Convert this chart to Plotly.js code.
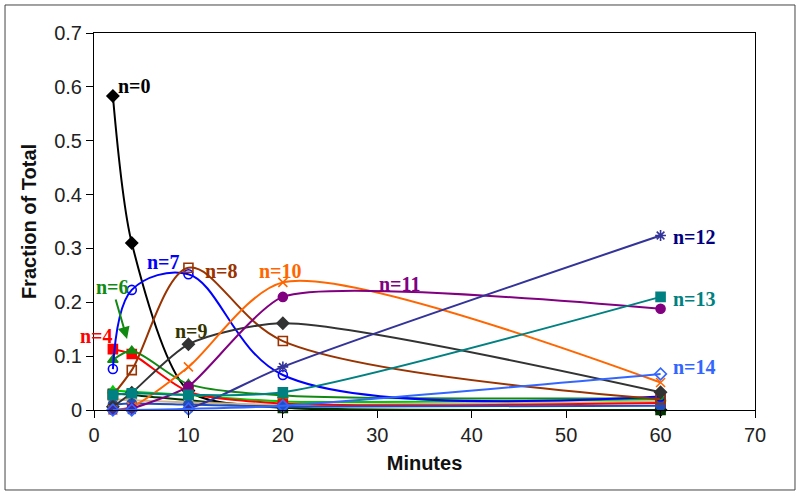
<!DOCTYPE html>
<html>
<head>
<meta charset="utf-8">
<script src="https://cdn.plot.ly/plotly-3.0.1.min.js"></script>
<style>html,body{margin:0;padding:0;background:#fff;}#chart{width:800px;height:496px;}</style>
</head>
<body>
<div id="chart"></div>
<script>
// Sampling times (minutes)
const minutes = [2, 4, 10, 20, 60];

// Fraction of total for each n
const n0  = [0.583, 0.310, 0.036, 0.005, 0.000];
const n1  = [0.030, 0.028, 0.018, 0.004, 0.000];
const n2  = [0.036, 0.034, 0.028, 0.016, 0.020];
const n3  = [0.020, 0.018, 0.014, 0.010, 0.016];
const n4  = [0.113, 0.104, 0.034, 0.012, 0.013];
const n5  = [0.010, 0.012, 0.010, 0.006, 0.008];
const n6  = [0.093, 0.110, 0.048, 0.027, 0.022];
const n7  = [0.076, 0.223, 0.252, 0.065, 0.025];
const n8  = [0.028, 0.074, 0.264, 0.128, 0.020];
const n9  = [0.006, 0.032, 0.122, 0.161, 0.033];
const n10 = [0.000, 0.006, 0.080, 0.237, 0.051];
const n11 = [0.000, 0.003, 0.044, 0.210, 0.188];
const n12 = [0.000, 0.000, 0.003, 0.080, 0.324];
const n13 = [0.028, 0.031, 0.028, 0.033, 0.210];
const n14 = [0.000, 0.000, 0.002, 0.008, 0.067];

const seriesNames = ["n=0","n=1","n=2","n=3","n=4","n=5","n=6","n=7","n=8","n=9","n=10","n=11","n=12","n=13","n=14"];
const seriesValues = [n0,n1,n2,n3,n4,n5,n6,n7,n8,n9,n10,n11,n12,n13,n14];

const styles = [
  {color:"#000000", symbol:"diamond", smooth:0.75},
  {color:"#003300", symbol:"square", smooth:0.75},
  {color:"#00cc00", symbol:"triangle-up", smooth:0.75},
  {color:"#d2b48c", symbol:"circle", smooth:0.75},
  {color:"#ff0000", symbol:"square", smooth:0.75},
  {color:"#1f4fbf", symbol:"circle", smooth:0.75},
  {color:"#118a11", symbol:"triangle-up", smooth:0.75},
  {color:"#0000ff", symbol:"circle-open", smooth:1.0},
  {color:"#993300", symbol:"square-open", smooth:0.95},
  {color:"#333333", symbol:"diamond", smooth:0.7},
  {color:"#ff6600", symbol:"x-thin-open", smooth:0.75},
  {color:"#800080", symbol:"circle", smooth:0.55},
  {color:"#333399", symbol:"asterisk-open", smooth:0.75},
  {color:"#008080", symbol:"square", smooth:0.75},
  {color:"#3366ff", symbol:"diamond-open", smooth:0.75}
];

const traces = seriesValues.map((vals, i) => ({
  type: "scatter",
  mode: "lines+markers",
  name: seriesNames[i],
  x: minutes,
  y: vals,
  line: {color: styles[i].color, width: 2, shape: "spline", smoothing: styles[i].smooth},
  marker: {color: styles[i].color, symbol: styles[i].symbol, size: 9,
           line: {color: styles[i].color, width: 1.6}},
  cliponaxis: false,
  hoverinfo: "skip"
}));

// Label positions/colours
const labelText = ["n=0","n=7","n=8","n=10","n=9","n=11","n=12","n=13","n=14","n=4"];
const labelX    = [4.3, 7.4, 13.5, 19.8, 10.3, 32.4, 63.6, 63.6, 63.6, 0.3];
const labelY    = [0.601, 0.275, 0.259, 0.259, 0.147, 0.234, 0.321, 0.206, 0.080, 0.137];
const labelColor= ["#000000","#0000ff","#993300","#ff6600","#333300","#800080","#000080","#008080","#3366ff","#ff0000"];

const annotations = labelText.map((t, i) => ({
  x: labelX[i], y: labelY[i], xref: "x", yref: "y",
  text: "<b>" + t + "</b>", showarrow: false,
  xanchor: "center", yanchor: "middle",
  font: {family: "Liberation Serif, Times New Roman, serif", size: 20, color: labelColor[i]}
}));
annotations.push({
  x: 3.5, y: 0.132, xref: "x", yref: "y",
  ax: -15, ay: -52,
  text: "<b>n=6</b>", showarrow: true,
  arrowhead: 2, arrowsize: 1.2, arrowwidth: 2, arrowcolor: "#118a11",
  font: {family: "Liberation Serif, Times New Roman, serif", size: 20, color: "#118a11"}
});

const layout = {
  width: 800, height: 496,
  margin: {l: 94, r: 45, t: 33, b: 86},
  paper_bgcolor: "#ffffff",
  plot_bgcolor: "#ffffff",
  showlegend: false,
  font: {family: "Liberation Sans, Arial, sans-serif", color: "#222222"},
  xaxis: {
    range: [0, 70], dtick: 10, tick0: 0,
    showgrid: false, zeroline: false,
    showline: true, linecolor: "#000000", linewidth: 1, mirror: true,
    ticks: "outside", ticklen: 7, tickcolor: "#000000",
    tickfont: {size: 20, color: "#222222"},
    title: {text: "<b>Minutes</b>", font: {size: 20, color: "#111111"}, standoff: 10}
  },
  yaxis: {
    range: [0, 0.7], dtick: 0.1, tick0: 0,
    showgrid: false, zeroline: false,
    showline: true, linecolor: "#000000", linewidth: 1, mirror: true,
    ticks: "outside", ticklen: 7, tickcolor: "#000000",
    tickfont: {size: 20, color: "#222222"},
    title: {text: "<b>Fraction of Total</b>", font: {size: 20, color: "#111111"}, standoff: 12}
  },
  annotations: annotations,
  shapes: [{
    type: "rect", xref: "paper", yref: "paper",
    x0: -0.1346, x1: 1.0605, y0: -0.2122, y1: 1.0743,
    line: {color: "#444444", width: 1}, fillcolor: "rgba(0,0,0,0)"
  }]
};

Plotly.newPlot("chart", traces, layout, {displayModeBar: false, staticPlot: true});
</script>
</body>
</html>
